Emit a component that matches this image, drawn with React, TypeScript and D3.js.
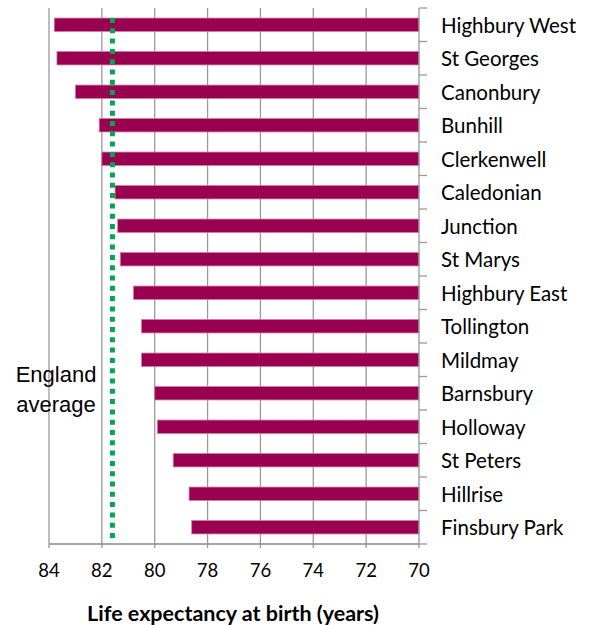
import React from 'react';
import * as d3 from 'd3';

// Ward life expectancy, top to bottom as shown
const wards = [
  'Highbury West', 'St Georges', 'Canonbury', 'Bunhill', 'Clerkenwell', 'Caledonian',
  'Junction', 'St Marys', 'Highbury East', 'Tollington', 'Mildmay', 'Barnsbury',
  'Holloway', 'St Peters', 'Hillrise', 'Finsbury Park',
];
const lifeExpectancy = [
  83.8, 83.7, 83.0, 82.1, 82.0, 81.5, 81.4, 81.3, 80.8, 80.5, 80.5, 80.0, 79.9, 79.3, 78.7, 78.6,
];
const englandAverage = 81.6;
const xTicks = [84, 82, 80, 78, 76, 74, 72, 70];

const width = 594;
const height = 625;
const plot = { left: 49, right: 419, top: 8, bottom: 544 };

const labelFont = 'Lato, "Open Sans", sans-serif';

const App: React.FC = () => {
  // reversed axis: 84 on the left, 70 on the right
  const x = d3.scaleLinear().domain([84, 70]).range([plot.left, plot.right]);
  const y = d3.scaleBand<string>()
    .domain(wards)
    .range([plot.top, plot.bottom])
    .paddingInner(0.6)
    .paddingOuter(0.3);
  const step = y.step();
  const boundaries = d3.range(wards.length + 1).map(i => plot.top + i * step);

  return (
    <svg width={width} height={height} style={{ position: 'absolute', left: 0, top: 0, background: '#fff' }}>
      {/* vertical gridlines */}
      {xTicks.slice(0, -1).map(t => (
        <line key={`g${t}`} x1={x(t)} x2={x(t)} y1={plot.top} y2={plot.bottom + 4}
          stroke="#999" strokeWidth={1.3} />
      ))}

      {/* bars */}
      {wards.map((w, i) => (
        <rect key={w}
          x={x(lifeExpectancy[i])}
          y={y(w)!}
          width={x(70) - x(lifeExpectancy[i])}
          height={y.bandwidth()}
          fill="#990050" stroke="#cf7aa6" strokeWidth={0.8} />
      ))}

      {/* England average */}
      <line x1={x(englandAverage)} x2={x(englandAverage)} y1={18} y2={541}
        stroke="#00a650" strokeWidth={5} strokeDasharray="5 5.3" />

      {/* right-hand category axis */}
      <line x1={x(70)} x2={x(70)} y1={plot.top} y2={plot.bottom} stroke="#999" strokeWidth={1.3} />
      {boundaries.map((b, i) => (
        <line key={`t${i}`} x1={x(70)} x2={x(70) + 8} y1={b} y2={b} stroke="#999" strokeWidth={1.3} />
      ))}
      {wards.map(w => (
        <text key={`l${w}`} x={441} y={y(w)! + y.bandwidth() / 2}
          dominantBaseline="central" fontFamily={labelFont} fontSize={20.5} fill="#000">
          {w}
        </text>
      ))}

      {/* bottom axis */}
      <line x1={plot.left} x2={plot.right} y1={plot.bottom} y2={plot.bottom} stroke="#888" strokeWidth={1.5} />
      <line x1={x(70)} x2={x(70)} y1={plot.bottom} y2={plot.bottom + 4} stroke="#999" strokeWidth={1.3} />
      {xTicks.map(t => (
        <text key={`x${t}`} x={x(t)} y={570} textAnchor="middle" dominantBaseline="central"
          fontFamily={labelFont} fontSize={18.5} fill="#000">
          {t}
        </text>
      ))}

      <text x={56} y={382} textAnchor="middle" fontFamily='"Liberation Sans", Arial, sans-serif'
        fontSize={22} fill="#000">England</text>
      <text x={56} y={412} textAnchor="middle" fontFamily='"Liberation Sans", Arial, sans-serif'
        fontSize={22} fill="#000">average</text>

      <text x={233} y={621} textAnchor="middle" fontFamily={labelFont} fontWeight="bold"
        fontSize={21.5} fill="#000">
        Life expectancy at birth (years)
      </text>
    </svg>
  );
};

export default App;
